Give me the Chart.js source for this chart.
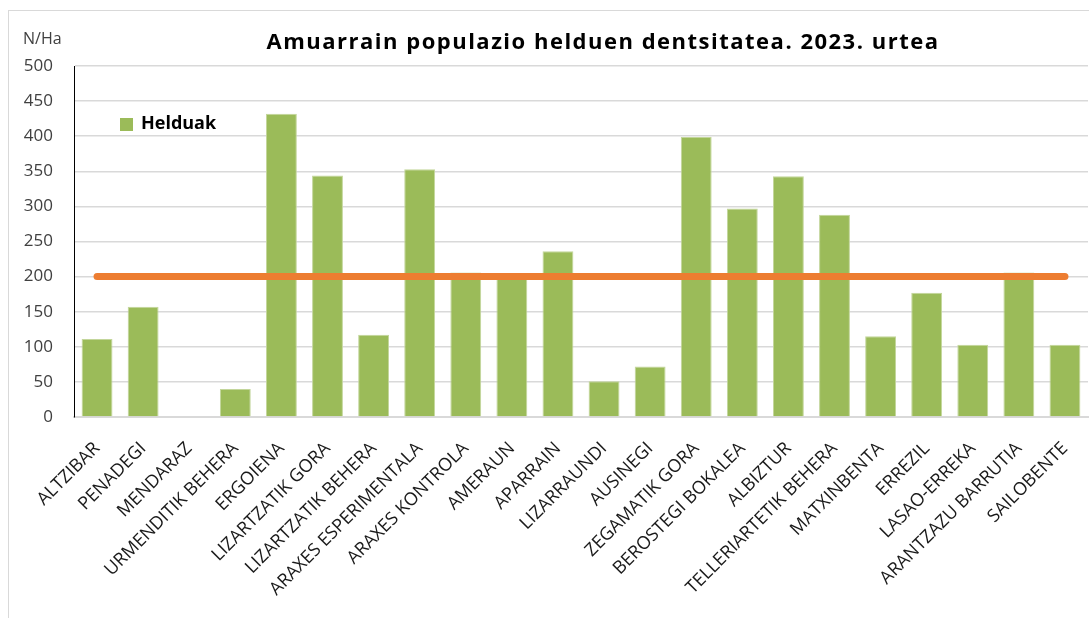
<!DOCTYPE html>
<html>
<head>
<meta charset="utf-8">
<script src="https://cdn.jsdelivr.net/npm/chart.js@4.4.1/dist/chart.umd.min.js"></script>
<style>
  html, body { margin: 0; padding: 0; background: #fff; }
  #wrap { position: relative; width: 1089px; height: 618px; overflow: hidden; }
  #frame { position: absolute; left: 8px; top: 10px; width: 1200px; height: 700px; border: 1px solid #d9d9d9; box-sizing: border-box; }
  canvas { position: absolute; left: 0; top: 0; }
</style>
</head>
<body>
<div id="wrap">
  <div id="frame"></div>
  <canvas id="c" width="1089" height="618"></canvas>
</div>
<script>
const categories = ["ALTZIBAR","PENADEGI","MENDARAZ","URMENDITIK BEHERA","ERGOIENA","LIZARTZATIK GORA","LIZARTZATIK BEHERA","ARAXES ESPERIMENTALA","ARAXES KONTROLA","AMERAUN","APARRAIN","LIZARRAUNDI","AUSINEGI","ZEGAMATIK GORA","BEROSTEGI BOKALEA","ALBIZTUR","TELLERIARTETIK BEHERA","MATXINBENTA","ERREZIL","LASAO-ERREKA","ARANTZAZU BARRUTIA","SAILOBENTE"];
const helduak = [111,157,0,40,432,344,117,353,206,201,236,51,72,399,297,343,288,115,177,103,206,103];
const threshold = [200,200,200,200,200,200,200,200,200,200,200,200,200,200,200,200,200,200,200,200,200,200];
const yTicks = [0,50,100,150,200,250,300,350,400,450,500];
const titleText = "Amuarrain populazio helduen dentsitatea. 2023. urtea";
const unitText = "N/Ha";
const seriesName = "Helduak";

const FONT = "'Open Sans', sans-serif";

const overlay = {
  id: 'overlay',
  afterDraw(chart) {
    const ctx = chart.ctx;
    ctx.save();
    ctx.fillStyle = '#000';
    ctx.font = "bold 22px " + FONT;
    try { ctx.letterSpacing = '1.5px'; } catch (e) {}
    ctx.textAlign = 'center';
    ctx.textBaseline = 'middle';
    ctx.fillText(titleText, 603, 43);
    try { ctx.letterSpacing = '0px'; } catch (e) {}
    ctx.fillStyle = '#404040';
    ctx.font = "16px " + FONT;
    ctx.textAlign = 'left';
    ctx.fillText(unitText, 23, 39);
    // legend
    ctx.fillStyle = '#9BBB59';
    ctx.fillRect(120, 118, 13, 13);
    ctx.fillStyle = '#000';
    ctx.font = "bold 18px " + FONT;
    ctx.textBaseline = 'middle';
    ctx.fillText(seriesName, 141, 124);
    ctx.restore();
  }
};

new Chart(document.getElementById('c'), {
  data: {
    labels: categories,
    datasets: [
      { type: 'line', label: 'Muga', data: threshold, borderColor: '#ED7D31', borderWidth: 7, borderCapStyle: 'round', pointRadius: 0, order: 0, fill: false },
      { type: 'bar', label: seriesName, data: helduak, backgroundColor: '#9BBB59', borderColor: '#C3D69B', borderWidth: 1, categoryPercentage: 1, barPercentage: 0.67, order: 1 }
    ]
  },
  options: {
    responsive: false,
    animation: false,
    layout: { padding: { top: 66, right: 1, left: 0, bottom: 0 } },
    plugins: { legend: { display: false }, title: { display: false }, tooltip: { enabled: false } },
    scales: {
      x: {
        grid: { display: false, drawTicks: false },
        border: { color: '#d9d9d9', width: 2 },
        ticks: { color: '#1a1a1a', font: { family: FONT, size: 18 }, maxRotation: 45, minRotation: 45, autoSkip: false, padding: 21 },
        afterFit(s) { s.height = 201; s.paddingRight = 0; s.paddingLeft = 0; }
      },
      y: {
        min: 0, max: 500,
        afterBuildTicks(s) { s.ticks = yTicks.map(v => ({ value: v })); },
        grid: { color: '#d9d9d9', lineWidth: 1.5, drawTicks: false },
        border: { color: '#000', width: 1 },
        ticks: { color: '#404040', font: { family: FONT, size: 17 }, padding: 21 },
        afterFit(s) { s.width = 74; }
      }
    }
  },
  plugins: [overlay]
});
</script>
</body>
</html>
